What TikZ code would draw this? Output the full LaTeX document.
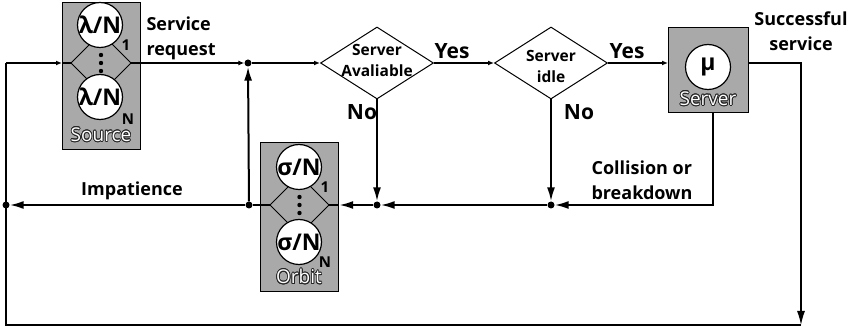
\documentclass[tikz,border=0pt]{standalone}
\usepackage{fontspec}
\setmainfont{Open Sans}
\newfontfamily\grk{Open Sans}
\usepackage{contour}
\contourlength{0.8pt}
\usetikzlibrary{shapes.geometric,arrows.meta}
\definecolor{boxgray}{HTML}{A9A9A9}
\newcommand\outl[1]{\textcolor{white}{\contour{black!85}{#1}}}
\begin{document}
\begin{tikzpicture}[x=1pt,y=-1pt,
  thinln/.style={line width=1.2pt},
  thickln/.style={line width=2pt},
  sarr/.style={-{Latex[length=6pt,width=5pt]}},
  barr/.style={-{Latex[length=14pt,width=8pt]}},
  graybox/.style={draw,fill=boxgray,line width=1.2pt,inner sep=0pt,anchor=north west},
  circ/.style={circle,draw,fill=white,line width=1.2pt,minimum size=45pt,inner sep=0pt},
  ctext/.style={font=\grk\fontsize{23}{23}\selectfont\bfseries},
  sub/.style={font=\fontsize{15}{15}\selectfont\bfseries},
  dot/.style={circle,fill=black,minimum size=7pt,inner sep=0pt},
  lbl/.style={font=\fontsize{18}{25}\selectfont\bfseries,align=left},
  big/.style={font=\fontsize{21}{21}\selectfont\bfseries},
  dtext/.style={font=\fontsize{15.5}{21}\selectfont\bfseries,align=center},
  decision/.style={diamond,draw,fill=white,line width=1pt,minimum width=113pt,minimum height=72pt,inner sep=0pt},
  olbl/.style={font=\fontsize{19}{19}\selectfont}
]
\useasboundingbox (0,0) rectangle (852,331);

% ---------- Source ----------
\node[graybox,minimum width=78pt,minimum height=147pt] (src) at (62,2) {};
\coordinate (sL) at (71,63);
\coordinate (sR) at (131,63);
\draw[line width=1pt] (sL) -- (101,33) -- (sR) -- (101,93) -- cycle;
\foreach \yy in {55,63,71} \fill (101,\yy) circle (2.2pt);
\node[circ,label={[ctext]center:λ/N}] (l1) at (100,25) {};
\node[circ,label={[ctext]center:λ/N}] (lN) at (100,97) {};
\node[sub] (s1) at (126,45) {1};
\node[sub] (sN) at (128,119) {N};
\node[olbl] (srcl) at (101,135) {\outl{Source}};

% ---------- Orbit ----------
\node[graybox,minimum width=78pt,minimum height=149pt] (orb) at (260,142) {};
\coordinate (oL) at (270,205);
\coordinate (oR) at (329,205);
\draw[line width=1pt] (oL) -- (299.5,175.5) -- (oR) -- (299.5,234.5) -- cycle;
\foreach \yy in {197,205,213} \fill (299.5,\yy) circle (2.2pt);
\node[circ,label={[ctext]center:σ/N}] (o1) at (299,167) {};
\node[circ,label={[ctext]center:σ/N}] (oN) at (299,242) {};
\node[sub] (t1) at (325,187) {1};
\node[sub] (tN) at (325,262) {N};
\node[olbl] (orbl) at (299,277) {\outl{Orbit}};

% ---------- Server ----------
\node[graybox,minimum width=80pt,minimum height=85pt] (srv) at (668,27) {};
\node[circ,label={[ctext]center:μ}] (mu) at (708,67) {};
\node[olbl] (srvl) at (708,99) {\outl{Server}};

% ---------- Decisions ----------
\node[decision,label={[dtext,yshift=2.5pt]center:Server\\Avaliable}] (d1) at (377,63) {};
\node[decision,label={[dtext,yshift=-3pt]center:Server\\idle}] (d2) at (551,63) {};

% ---------- Junctions ----------
\node[dot] (j1) at (248,63) {};
\node[dot] (j2) at (377,205) {};
\node[dot] (j3) at (551,205) {};
\node[dot] (j4) at (249,205) {};
\node[dot] (j5) at (6,205) {};
\coordinate (tl) at (6,63);
\coordinate (bl) at (6,325);
\coordinate (br) at (801,325);
\coordinate (tr) at (801,63);

% ---------- Connectors ----------
\draw[thinln,sarr] (sR) -- (j1);
\draw[thinln,sarr] (j1) -- (d1.west);
\draw[thinln,sarr] (d1.east) -- (d2.west);
\draw[thinln,sarr] (d2.east) -- (srv.west |- d2.east);
\draw[thinln,barr] (srv.east |- tr) -- (tr) -- (br);
\draw[line width=1.7pt] (br) -- (bl) -- (tl);
\draw[thinln,sarr] (tl) -- (src.west |- tl);
\draw[thinln] (src.west |- tl) -- (sL);
\draw[thickln,barr] (d1.south) -- (j2);
\draw[thickln,barr] (d2.south) -- (j3);
\draw[thickln,barr] ([xshift=4pt]srv.south) |- (j3);
\draw[thickln,barr] (j3) -- (j2);
\draw[thickln,barr] (j2) -- (orb.east |- j2);
\draw[thickln] (orb.east |- j2) -- (oR);
\draw[thickln] (oL) -- (j4);
\draw[thickln,barr] (j4) -- (j1);
\draw[thickln,barr] (j4) -- (j5);

% ---------- Labels ----------
\node[lbl,anchor=west] (lreq) at (143,38) {Service\\request};
\node[lbl,align=center] (lsucc) at (801,31) {Successful\\service};
\node[lbl,anchor=west] (lcoll) at (588,180) {Collision or\\breakdown};
\node[lbl] (limp) at (132,191) {Impatience};
\node[big] (yes1) at (452,51) {Yes};
\node[big] (yes2) at (627,51) {Yes};
\node[big] (no1) at (362,112) {No};
\node[big] (no2) at (579,112) {No};
\end{tikzpicture}
\end{document}
